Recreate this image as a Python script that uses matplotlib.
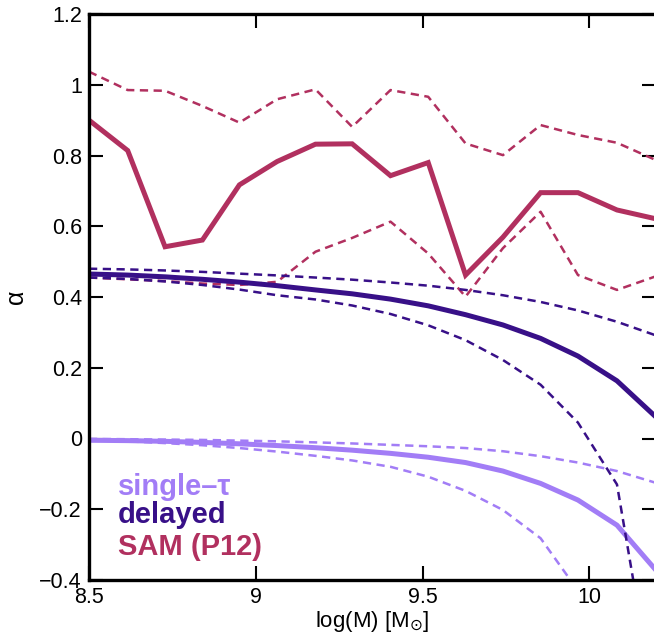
import matplotlib
matplotlib.use("Agg")
import matplotlib.pyplot as plt

plt.rcParams['font.family'] = ['Liberation Sans', 'DejaVu Sans']
plt.rcParams['mathtext.fontset'] = 'dejavusans'

# ---- data ----
logM = [8.500, 8.616, 8.728, 8.840, 8.951, 9.064, 9.179, 9.289,
        9.404, 9.517, 9.629, 9.741, 9.854, 9.966, 10.083, 10.195]

sam_mid = [0.900, 0.814, 0.542, 0.561, 0.717, 0.783, 0.832, 0.833,
           0.743, 0.780, 0.462, 0.569, 0.695, 0.695, 0.646, 0.622]
sam_hi = [1.037, 0.985, 0.983, 0.940, 0.893, 0.959, 0.987, 0.881,
          0.985, 0.966, 0.834, 0.801, 0.886, 0.858, 0.836, 0.789]
sam_lo = [0.455, 0.450, 0.445, 0.438, 0.434, 0.443, 0.528, 0.567,
          0.613, 0.523, 0.401, 0.538, 0.641, 0.462, 0.420, 0.457]

del_mid = [0.465, 0.462, 0.457, 0.450, 0.442, 0.432, 0.420, 0.409,
           0.394, 0.375, 0.350, 0.321, 0.283, 0.233, 0.163, 0.065]
del_hi = [0.480, 0.478, 0.475, 0.471, 0.466, 0.461, 0.455, 0.449,
          0.441, 0.432, 0.420, 0.405, 0.386, 0.362, 0.330, 0.293]
del_lo = [0.455, 0.451, 0.444, 0.434, 0.421, 0.405, 0.393, 0.376,
          0.352, 0.320, 0.278, 0.222, 0.152, 0.045, -0.130, -0.750]

sgl_mid = [-0.005, -0.006, -0.008, -0.011, -0.015, -0.020, -0.026, -0.033,
           -0.042, -0.053, -0.068, -0.092, -0.127, -0.174, -0.245, -0.367]
sgl_hi = [-0.001, -0.002, -0.003, -0.004, -0.006, -0.008, -0.011, -0.014,
          -0.018, -0.022, -0.027, -0.036, -0.050, -0.068, -0.092, -0.124]
sgl_lo = [-0.005, -0.008, -0.013, -0.019, -0.027, -0.037, -0.049, -0.062,
          -0.080, -0.108, -0.148, -0.202, -0.282, -0.430, -0.700, -1.000]

xticks = [8.5, 9, 9.5, 10]
xticklabels = ['8.5', '9', '9.5', '10']
yticks = [-0.4, -0.2, 0, 0.2, 0.4, 0.6, 0.8, 1.0, 1.2]
yticklabels = ['\u22120.4', '\u22120.2', '0', '0.2', '0.4', '0.6', '0.8', '1', '1.2']

c_sgl = '#A27DF6'
c_del = '#381088'
c_sam = '#B1305F'

fig = plt.figure(figsize=(6.54, 6.41), dpi=100)
ax = fig.add_axes([89/654, 61/641, 567/654, 566/641])

lw_s = 3.6
lw_d = 1.8
dash = (0, (3.3, 2.2))

ax.plot(logM, sam_hi, color=c_sam, lw=lw_d, ls=dash)
ax.plot(logM, sam_lo, color=c_sam, lw=lw_d, ls=dash)
ax.plot(logM, sam_mid, color=c_sam, lw=lw_s, solid_joinstyle='miter')

ax.plot(logM, sgl_hi, color=c_sgl, lw=lw_d, ls=dash)
ax.plot(logM, sgl_lo, color=c_sgl, lw=lw_d, ls=dash)
ax.plot(logM, sgl_mid, color=c_sgl, lw=lw_s)

ax.plot(logM, del_hi, color=c_del, lw=lw_d, ls=dash)
ax.plot(logM, del_lo, color=c_del, lw=lw_d, ls=dash)
ax.plot(logM, del_mid, color=c_del, lw=lw_s)

ax.set_xlim(8.5, 10.2)
ax.set_ylim(-0.4, 1.2)
ax.set_xticks(xticks)
ax.set_xticklabels(xticklabels)
ax.set_yticks(yticks)
ax.set_yticklabels(yticklabels)

ax.tick_params(direction='in', length=10, width=1.5, labelsize=15.5,
               top=True, right=True, pad=5)
for s in ax.spines.values():
    s.set_linewidth(2.4)

ax.set_xlabel('log(M) [M$_{\\odot}$]', fontsize=16, labelpad=1)
ax.set_ylabel('\u03b1', fontsize=18, labelpad=8)

tf = ax.transAxes
ax.text(0.051, 0.150, 'single\u2013\u03c4', color=c_sgl, fontsize=21,
        fontweight='bold', transform=tf, va='baseline', ha='left')
ax.text(0.051, 0.1007, 'delayed', color=c_del, fontsize=21,
        fontweight='bold', transform=tf, va='baseline', ha='left')
ax.text(0.051, 0.0442, 'SAM (P12)', color=c_sam, fontsize=21,
        fontweight='bold', transform=tf, va='baseline', ha='left')

fig.savefig('out.png', dpi=100)
